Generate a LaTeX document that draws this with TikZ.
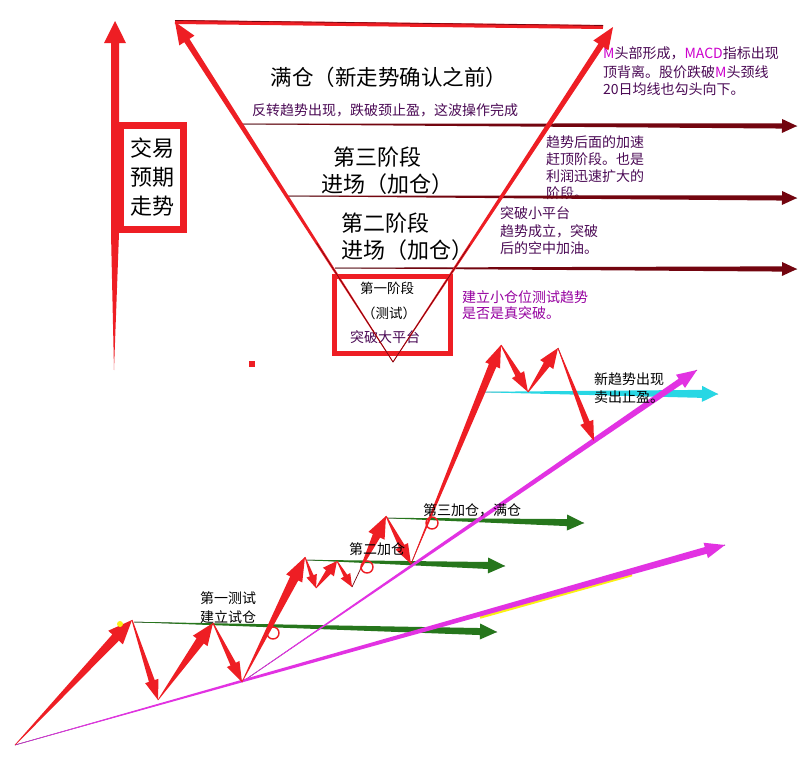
\documentclass[tikz,border=0pt]{standalone}
\usepackage{fontspec}
\setmainfont{Noto Sans CJK SC}
\usetikzlibrary{calc}
\definecolor{myred}{RGB}{238,30,36}
\definecolor{hdark}{RGB}{115,5,15}
\definecolor{mymag}{RGB}{226,50,226}
\definecolor{mygreen}{RGB}{38,118,28}
\definecolor{mycyan}{RGB}{40,215,228}
\definecolor{tpurple}{RGB}{75,10,85}
\definecolor{tmag}{RGB}{150,0,160}
\definecolor{lmag}{RGB}{205,0,205}
\definecolor{myyellow}{RGB}{250,240,20}
% #1 style, #2 tail, #3 tip, #4 tail half width, #5 shaft half width, #6 head half width, #7 head length
\newcommand\farrow[7][]{%
  \coordinate (fah) at ($(#3)!#7!(#2)$);
  \fill[#1] ($(#2)!#4!90:(#3)$) -- ($(fah)!#5!90:(#3)$) -- ($(fah)!#6!90:(#3)$) -- (#3)
     -- ($(fah)!#6!-90:(#3)$) -- ($(fah)!#5!-90:(#3)$) -- ($(#2)!#4!-90:(#3)$) -- cycle;}
\tikzset{
  txt/.style={inner sep=0pt, anchor=west, font=\fontsize{14}{16}\selectfont},
  ctxt/.style={inner sep=0pt, font=\fontsize{14}{16}\selectfont},
  big/.style={inner sep=0pt, font=\fontsize{22}{26}\selectfont},
  ring/.style={circle, draw=myred, line width=1.4pt, minimum size=12pt, inner sep=0pt},
}
\begin{document}
\begin{tikzpicture}[x=1pt,y=-1pt]
\path[use as bounding box] (0,0) rectangle (800,761);
\fill[white] (0,0) rectangle (800,761);

% ---------- coordinates (top) ----------
\coordinate (TL) at (175,22);
\coordinate (TR) at (613,27);
\coordinate (TRl) at (603,27);
\coordinate (TLu) at (175,20.5);
\coordinate (TRu) at (603,25.5);
\coordinate (AP) at (393,362);
\coordinate (H1s) at (241,124);  \coordinate (H1e) at (797,126);
\coordinate (H2s) at (287,196);  \coordinate (H2e) at (797,198);
\coordinate (H3s) at (335,268);  \coordinate (H3e) at (797,269);

% ---------- left vertical arrow with box ----------
\fill[myred] (114,370) -- (111,233) -- (111,43) -- (104,43) -- (115,21) -- (126,43) -- (119,43) -- (119,233) -- cycle;
\node[draw=myred, fill=white, line width=7pt, minimum width=63pt, minimum height=104pt, inner sep=0pt] (box) at (152,177.5) {};
\node[big] (tA) at (152,148) {交易};
\node[big] (tB) at (152,177) {预期};
\node[big] (tC) at (152,206) {走势};

% ---------- texts inside / beside triangle ----------
\node[inner sep=0pt, font=\fontsize{21.5}{26}\selectfont] (full) at (389,77) {满仓（新走势确认之前）};
\node[ctxt, text=tpurple] (rev) at (385,110) {反转趋势出现，跌破颈止盈，这波操作完成};
\node[big, anchor=west] (s3a) at (333,157) {第三阶段};
\node[big, anchor=west] (s3b) at (321,184) {进场（加仓）};
\node[big, anchor=west] (s2a) at (341,223) {第二阶段};
\node[big, anchor=west] (s2b) at (341,250) {进场（加仓）};

\node[txt, text=tpurple] (m1) at (603,53) {\textcolor{lmag}{M}头部形成，\textcolor{lmag}{MACD}指标出现};
\node[txt, text=tpurple] (m2) at (603,72) {顶背离。股价跌破\textcolor{lmag}{M}头颈线};
\node[txt, text=tpurple] (m3) at (603,89) {20日均线也勾头向下。};

\node[txt, text=tpurple] (q1) at (546,142) {趋势后面的加速};
\node[txt, text=tpurple] (q2) at (546,159) {赶顶阶段。也是};
\node[txt, text=tpurple] (q3) at (546,176) {利润迅速扩大的};
\node[txt, text=tpurple] (q4) at (546,193) {阶段。};

\node[txt, text=tpurple] (k1) at (500,213) {突破小平台};
\node[txt, text=tpurple] (k2) at (500,231) {趋势成立，突破};
\node[txt, text=tpurple] (k3) at (500,248) {后的空中加油。};

\node[txt, text=tmag] (j1) at (462,297) {建立小仓位测试趋势};
\node[txt, text=tmag] (j2) at (462,313) {是否是真突破。};

% ---------- horizontal dark arrows ----------
\draw[black, line width=0.5pt] (H1s) -- (H1e);
\draw[black, line width=0.5pt] (H2s) -- (H2e);
\draw[black, line width=0.5pt] (H3s) -- (H3e);
\farrow[fill=hdark]{H1s}{H1e}{0.3pt}{2.6pt}{7pt}{15pt}
\farrow[fill=hdark]{H2s}{H2e}{0.3pt}{2.6pt}{7pt}{15pt}
\farrow[fill=hdark]{H3s}{H3e}{0.3pt}{2.6pt}{7pt}{15pt}

% ---------- first stage box ----------
\node[draw=myred, line width=5.5pt, minimum width=116pt, minimum height=77pt, inner sep=0pt] (st1) at (392.5,315) {};
\node[ctxt, font=\fontsize{13.5}{16}\selectfont] (f1) at (387,288) {第一阶段};
\node[ctxt, font=\fontsize{13.5}{16}\selectfont] (f2) at (389,313) {（测试）};
\node[ctxt, text=tpurple] (f3) at (385,337) {突破大平台};

% ---------- triangle ----------
\draw[myred, line width=4pt] (TL) -- (TRl);
\draw[hdark, line width=0.7pt] (TLu) -- (TRu);
\farrow[fill=myred]{AP}{TL}{0.4pt}{3pt}{9pt}{22pt}
\farrow[fill=myred]{AP}{TR}{0.4pt}{3pt}{9pt}{22pt}
\draw[hdark, line width=0.6pt] ($(AP)!0.35!(TL)$) -- (AP) -- ($(AP)!0.35!(TR)$);

\node[fill=myred, minimum size=6pt, inner sep=0pt] (sq) at (252,364) {};

% ---------- bottom chart coordinates ----------
\coordinate (O) at (15,745);
\coordinate (P1) at (132,620);
\coordinate (V1) at (158,700);
\coordinate (P2) at (213,623);
\coordinate (V2) at (242,682);
\coordinate (P3) at (305,557);
\coordinate (a1) at (316,588);
\coordinate (b1) at (337,561);
\coordinate (a2) at (352,587);
\coordinate (c2) at (360,570);
\coordinate (P4) at (386,516);
\coordinate (V4) at (411,564);
\coordinate (P5) at (501,345);
\coordinate (V5) at (528,392);
\coordinate (P6) at (558,348);
\coordinate (V6) at (594,441);
\coordinate (MT1) at (725,545);
\coordinate (MT2) at (697,370);
\coordinate (CY1) at (480,392);
\coordinate (CY2) at (718,394);
\coordinate (G1s) at (134,622); \coordinate (G1e) at (497,632);
\coordinate (G2s) at (307,560); \coordinate (G2e) at (505,566);
\coordinate (G3s) at (387,518); \coordinate (G3e) at (584,523);
\coordinate (Y1) at (480,617.5); \coordinate (Y2) at (632,575);

% green arrows
\draw[black, line width=0.5pt] (G1s) -- (G1e);
\draw[black, line width=0.5pt] (G2s) -- (G2e);
\draw[black, line width=0.5pt] (G3s) -- (G3e);
\farrow[fill=mygreen]{G1s}{G1e}{0.2pt}{3.5pt}{8pt}{17pt}
\farrow[fill=mygreen]{G2s}{G2e}{0.2pt}{3.5pt}{8pt}{17pt}
\farrow[fill=mygreen]{G3s}{G3e}{0.2pt}{3.5pt}{8pt}{17pt}

% cyan arrow
\draw[black!60!cyan, line width=0.5pt] (CY1) -- (CY2);
\farrow[fill=mycyan]{CY1}{CY2}{0.2pt}{4pt}{8pt}{16pt}

% yellow and magenta trend lines
\draw[myyellow, line width=2.5pt] (Y1) -- (Y2);
\draw[tpurple, line width=0.6pt] (O) -- (MT1);
\draw[tpurple, line width=0.6pt] (V2) -- (MT2);
\farrow[fill=mymag]{O}{MT1}{0.2pt}{3.5pt}{8pt}{20pt}
\farrow[fill=mymag]{V2}{MT2}{0.2pt}{3.2pt}{8pt}{20pt}

% red price arrows
\farrow[fill=myred]{O}{P1}{0.3pt}{4.5pt}{10pt}{24pt}
\fill[myyellow] (120,624) circle (3pt);
\farrow[fill=myred]{P1}{V1}{0.5pt}{3pt}{7pt}{20pt}
\farrow[fill=myred]{V1}{P2}{0.3pt}{4.5pt}{9pt}{22pt}
\farrow[fill=myred]{P2}{V2}{0.5pt}{3pt}{7pt}{20pt}
\farrow[fill=myred]{V2}{P3}{0.3pt}{4.5pt}{9pt}{24pt}
\farrow[fill=myred]{P3}{a1}{0.4pt}{2pt}{5.5pt}{13pt}
\farrow[fill=myred]{a1}{b1}{0.4pt}{3pt}{7pt}{14pt}
\farrow[fill=myred]{b1}{a2}{0.4pt}{2pt}{5.5pt}{13pt}
\draw[hdark, line width=0.7pt] (a2) -- (c2);
\farrow[fill=myred]{c2}{P4}{0.5pt}{4pt}{9pt}{22pt}
\farrow[fill=myred]{P4}{V4}{0.5pt}{3pt}{7pt}{20pt}
\draw[hdark, line width=0.6pt] (V4) -- ($(V4)!0.3!(P5)$);
\farrow[fill=myred]{V4}{P5}{0.2pt}{4pt}{8pt}{22pt}
\farrow[fill=myred]{P5}{V5}{0.5pt}{3pt}{7pt}{20pt}
\farrow[fill=myred]{V5}{P6}{0.5pt}{3.5pt}{8pt}{20pt}
\draw[hdark, line width=0.6pt] (P6) -- ($(P6)!0.3!(V6)$);
\farrow[fill=myred]{P6}{V6}{0.3pt}{3pt}{7pt}{20pt}

% entry rings
\node[ring] (r1) at (273,633) {};
\node[ring] (r2) at (367,567) {};
\node[ring] (r3) at (432,523) {};

% bottom labels
\node[txt] (b1a) at (200,598) {第一测试};
\node[txt] (b1b) at (200,617) {建立试仓};
\node[txt] (b2) at (349,549) {第二加仓};
\node[txt] (b3) at (423,510) {第三加仓，满仓};
\node[txt] (n1) at (594,379) {新趋势出现};
\node[txt] (n2) at (594,397) {卖出止盈。};
\end{tikzpicture}
\end{document}
